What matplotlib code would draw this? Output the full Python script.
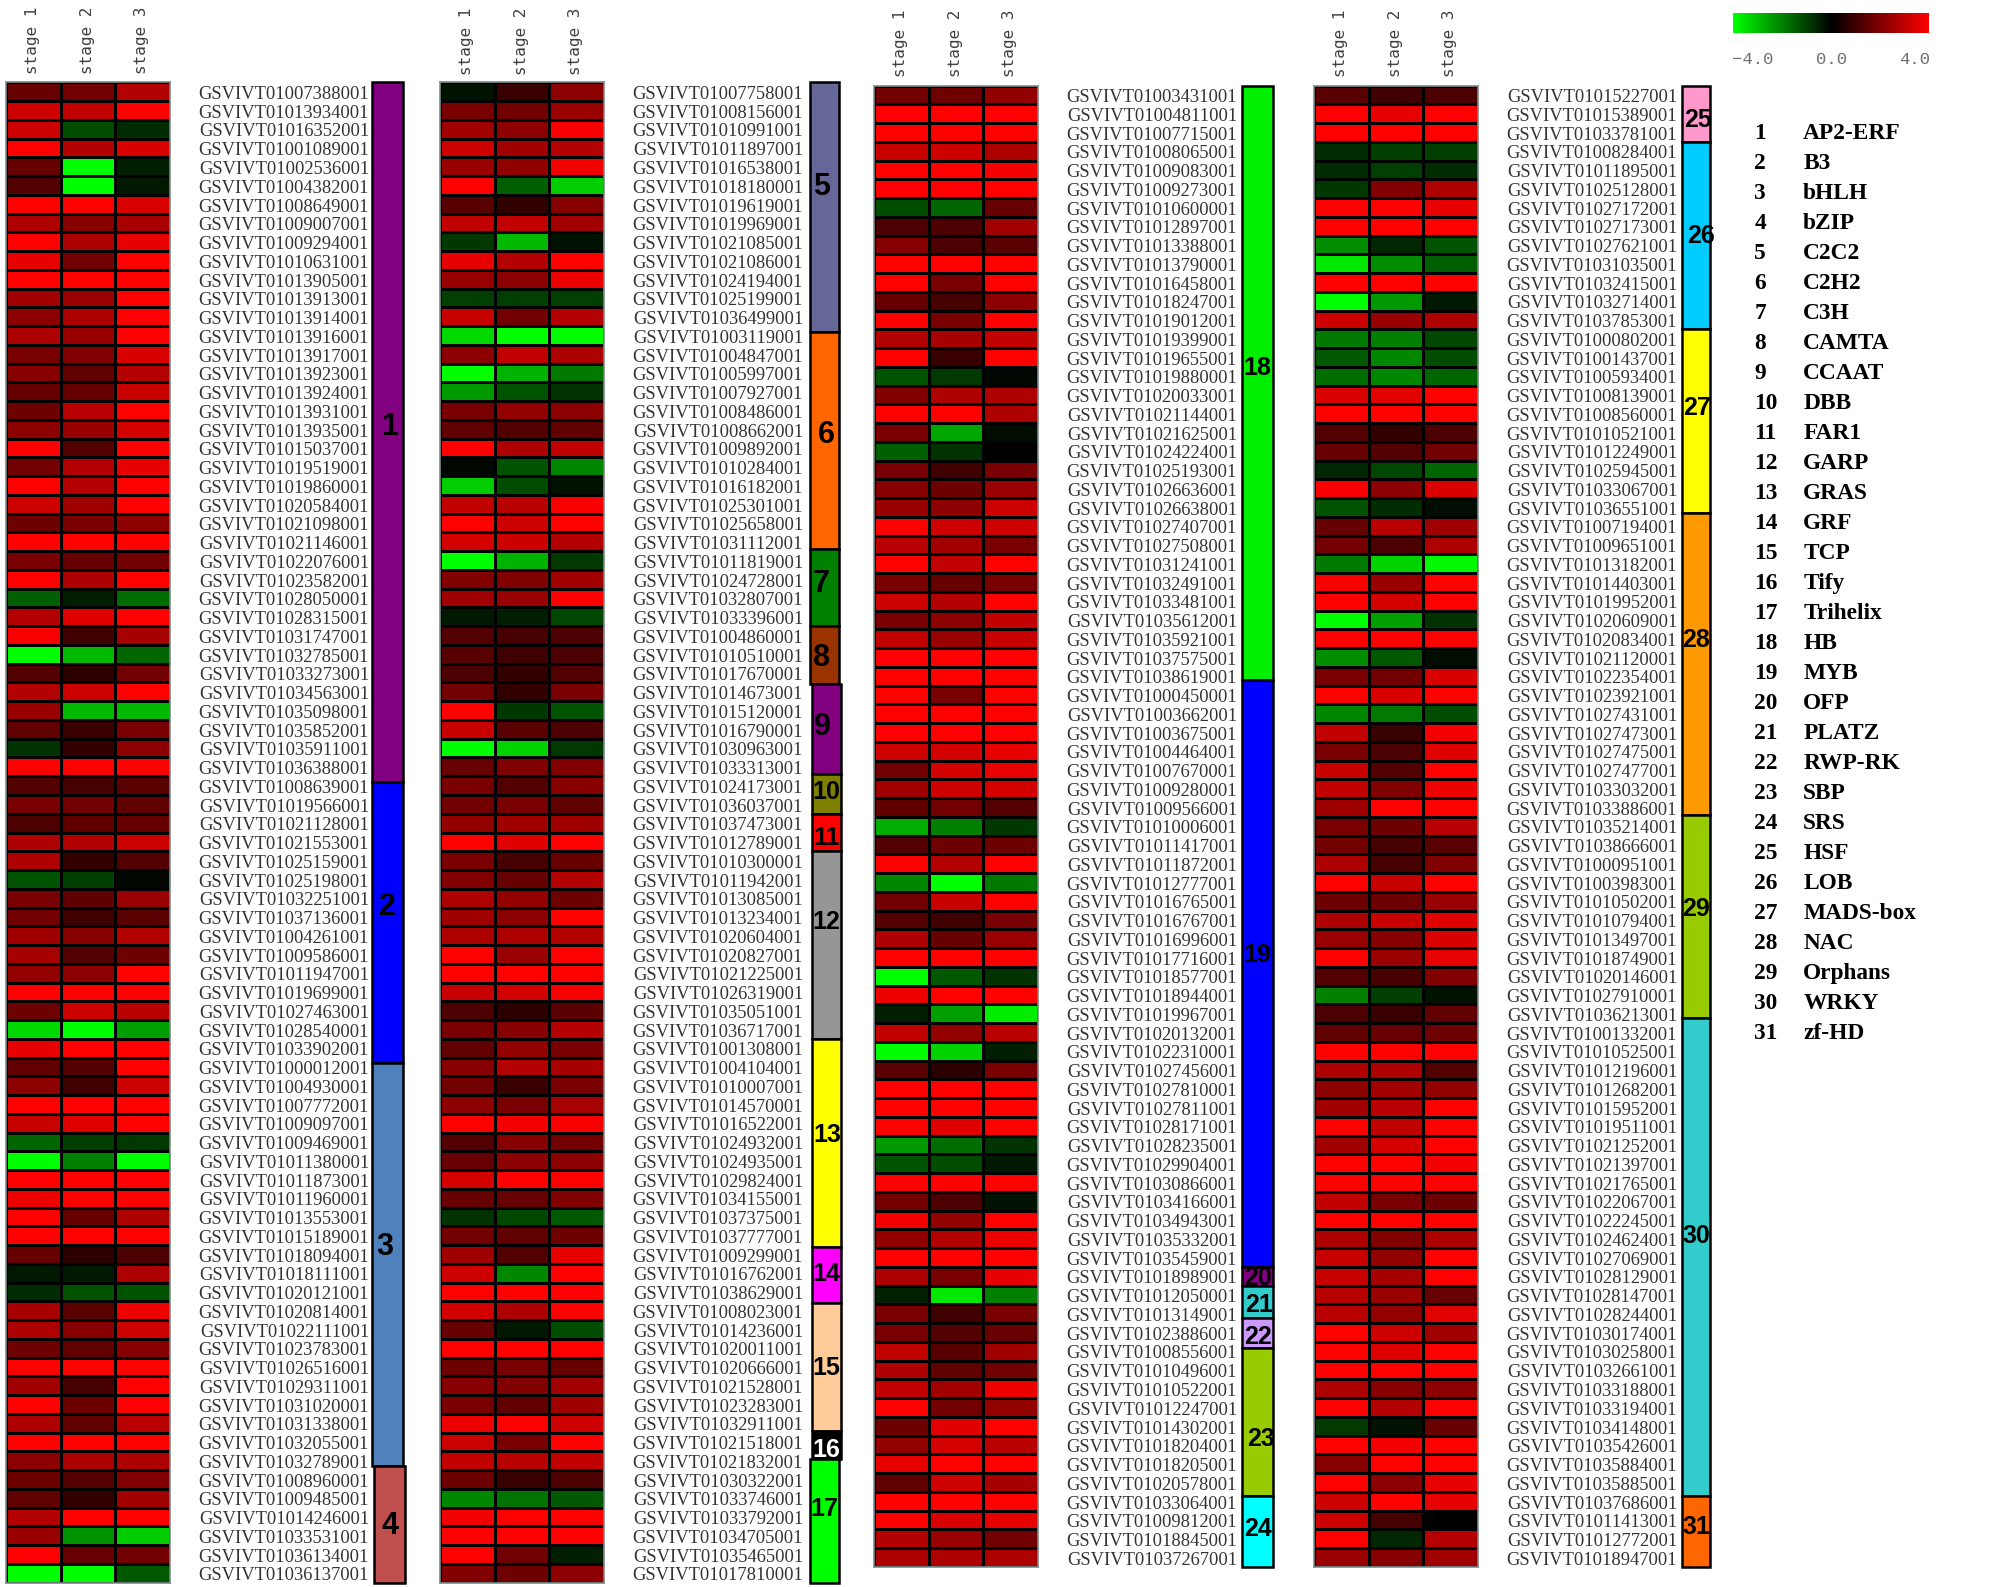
"""Expression heatmaps of grape transcription factor families across three stages."""

# %%
import matplotlib.pyplot as plt
from matplotlib.cm import ScalarMappable
from matplotlib.colors import LinearSegmentedColormap, Normalize
import numpy as np

# %% Data (log2 scale, -4 green to 4 red)
stages = ["stage 1", "stage 2", "stage 3"]

family_names = [
    "AP2-ERF", "B3", "bHLH", "bZIP", "C2C2", "C2H2", "C3H", "CAMTA", "CCAAT", "DBB", "FAR1",
    "GARP", "GRAS", "GRF", "TCP", "Tify", "Trihelix", "HB", "MYB", "OFP", "PLATZ", "RWP-RK",
    "SBP", "SRS", "HSF", "LOB", "MADS-box", "NAC", "Orphans", "WRKY", "zf-HD",
]
family_colors = [
    "#800080", "#0000FF", "#4F81BD", "#C0504D", "#666699", "#FF6600", "#008000", "#993300",
    "#800080", "#808000", "#FF0000", "#969696", "#FFFF00", "#FF00FF", "#FFCC99", "#000000",
    "#00FF00", "#00EE00", "#0000FF", "#800080", "#33CCCC", "#CC99FF", "#99CC00", "#00FFFF",
    "#FF99CC", "#00CCFF", "#FFFF00", "#FF9900", "#99CC00", "#33CCCC", "#FF6600",
]

# bar heights in rows, as measured on the picture (the bars do not quite follow the rows)
family_sizes_a = [37.3, 15, 21.5, 6.2]
family_sizes_b = [13.3, 11.6, 4.1, 3.1, 4.8, 2.1, 2, 10, 11.1, 3, 6.8, 1.5, 6.6]
family_sizes_c = [31.7, 31.3, 1, 1.7, 1.6, 7.9, 3.8]
family_sizes_d = [3, 10, 9.8, 16.1, 10.8, 25.5, 3.8]

genes_a = """
01007388 01013934 01016352 01001089 01002536 01004382 01008649 01009007 01009294 01010631
01013905 01013913 01013914 01013916 01013917 01013923 01013924 01013931 01013935 01015037
01019519 01019860 01020584 01021098 01021146 01022076 01023582 01028050 01028315 01031747
01032785 01033273 01034563 01035098 01035852 01035911 01036388 01008639 01019566 01021128
01021553 01025159 01025198 01032251 01037136 01004261 01009586 01011947 01019699 01027463
01028540 01033902 01000012 01004930 01007772 01009097 01009469 01011380 01011873 01011960
01013553 01015189 01018094 01018111 01020121 01020814 01022111 01023783 01026516 01029311
01031020 01031338 01032055 01032789 01008960 01009485 01014246 01033531 01036134 01036137
""".split()

genes_b = """
01007758 01008156 01010991 01011897 01016538 01018180 01019619 01019969 01021085 01021086
01024194 01025199 01036499 01003119 01004847 01005997 01007927 01008486 01008662 01009892
01010284 01016182 01025301 01025658 01031112 01011819 01024728 01032807 01033396 01004860
01010510 01017670 01014673 01015120 01016790 01030963 01033313 01024173 01036037 01037473
01012789 01010300 01011942 01013085 01013234 01020604 01020827 01021225 01026319 01035051
01036717 01001308 01004104 01010007 01014570 01016522 01024932 01024935 01029824 01034155
01037375 01037777 01009299 01016762 01038629 01008023 01014236 01020011 01020666 01021528
01023283 01032911 01021518 01021832 01030322 01033746 01033792 01034705 01035465 01017810
""".split()

genes_c = """
01003431 01004811 01007715 01008065 01009083 01009273 01010600 01012897 01013388 01013790
01016458 01018247 01019012 01019399 01019655 01019880 01020033 01021144 01021625 01024224
01025193 01026636 01026638 01027407 01027508 01031241 01032491 01033481 01035612 01035921
01037575 01038619 01000450 01003662 01003675 01004464 01007670 01009280 01009566 01010006
01011417 01011872 01012777 01016765 01016767 01016996 01017716 01018577 01018944 01019967
01020132 01022310 01027456 01027810 01027811 01028171 01028235 01029904 01030866 01034166
01034943 01035332 01035459 01018989 01012050 01013149 01023886 01008556 01010496 01010522
01012247 01014302 01018204 01018205 01020578 01033064 01009812 01018845 01037267
""".split()

genes_d = """
01015227 01015389 01033781 01008284 01011895 01025128 01027172 01027173 01027621 01031035
01032415 01032714 01037853 01000802 01001437 01005934 01008139 01008560 01010521 01012249
01025945 01033067 01036551 01007194 01009651 01013182 01014403 01019952 01020609 01020834
01021120 01022354 01023921 01027431 01027473 01027475 01027477 01033032 01033886 01035214
01038666 01000951 01003983 01010502 01010794 01013497 01018749 01020146 01027910 01036213
01001332 01010525 01012196 01012682 01015952 01019511 01021252 01021397 01021765 01022067
01022245 01024624 01027069 01028129 01028147 01028244 01030174 01030258 01032661 01033188
01033194 01034148 01035426 01035884 01035885 01037686 01011413 01012772 01018947
""".split()

values_a = [
    (1.6, 1.8, 2.8), (3.2, 3.0, 4), (3.2, -1.2, -0.7), (4, 2.8, 3.4), (1.6, -4, -0.5),
    (1.3, -4, -0.4), (4, 4, 3.4), (2.7, 2.1, 2.6), (4, 2.7, 3.6), (3.6, 1.8, 4),
    (4, 4, 4), (2.5, 2.4, 4), (2.2, 2.7, 4), (2.7, 2.4, 4), (1.9, 2.0, 3.4),
    (2.1, 1.5, 2.8), (1.6, 1.6, 3.1), (1.7, 2.9, 4), (2.2, 2.4, 3.3), (4, 1.3, 4),
    (1.8, 2.8, 3.6), (4, 2.8, 4), (3.2, 2.5, 4), (1.7, 1.9, 2.2), (4, 4, 4),
    (1.9, 1.6, 1.8), (4, 2.7, 4), (-1.5, -0.5, -1.7), (2.8, 3.5, 4), (3.9, 1.0, 2.6),
    (-4, -2.9, -1.6), (1.3, 0.7, 1.8), (2.8, 3.2, 4), (2.4, -2.9, -2.9), (1.5, 0.9, 1.9),
    (-0.8, 0.8, 2.2), (4, 4, 4), (1.3, 1.1, 1.4), (1.9, 1.8, 1.5), (1.2, 1.5, 1.6),
    (2.7, 2.8, 3.2), (2.7, 0.8, 1.3), (-1.3, -1.0, -0.1), (1.9, 1.5, 2.4), (1.8, 1.0, 1.4),
    (2.5, 2.1, 2.8), (2.6, 1.3, 1.7), (2.3, 2.2, 4), (4, 4, 4), (1.7, 3.2, 2.9),
    (-3.4, -4, -2.5), (3.6, 4, 4), (1.5, 1.3, 4), (2.2, 1.0, 3.2), (4, 4, 4),
    (3.1, 3.5, 4), (-1.6, -1.0, -0.9), (-4, -2.0, -4), (4, 4, 4), (3.7, 4, 4),
    (4, 1.6, 2.7), (4, 4, 4), (1.6, 0.7, 1.2), (-0.4, -0.4, 2.7), (-0.7, -1.3, -1.3),
    (2.6, 1.4, 3.7), (2.7, 2.1, 3.2), (1.7, 1.5, 2.1), (4, 4, 4), (2.5, 1.1, 4),
    (4, 1.7, 4), (2.7, 1.5, 2.9), (4, 4, 4), (2.2, 2.7, 2.7), (1.7, 1.3, 2.0),
    (1.5, 0.8, 2.5), (2.8, 4, 4), (2.4, -2.3, -3.2), (4, 1.6, 1.8), (-4, -4, -1.4),
]

values_b = [
    (-0.3, 0.9, 2.2), (1.9, 1.8, 2.4), (2.5, 2.2, 3.9), (3.2, 2.5, 2.8), (2.4, 2.3, 3.8),
    (4, -1.5, -3.2), (1.4, 0.8, 2.1), (3.0, 3.0, 2.5), (-0.9, -2.9, -0.3), (3.6, 2.8, 4),
    (2.4, 2.2, 3.7), (-1.0, -1.0, -1.0), (3.1, 1.8, 2.8), (-3.4, -4, -4), (2.2, 3.0, 2.7),
    (-4, -2.8, -1.9), (-2.4, -1.3, -0.8), (1.9, 2.3, 2.2), (1.5, 1.3, 1.5), (4, 2.7, 3.0),
    (-0.1, -1.3, -2.1), (-3.2, -1.2, -0.3), (3.0, 2.9, 3.9), (4, 3.2, 4), (3.3, 3.2, 2.8),
    (-4, -2.8, -0.9), (2.0, 2.0, 2.5), (2.5, 2.4, 4), (-0.4, -0.5, -1.1), (1.3, 1.1, 1.2),
    (1.4, 1.0, 1.2), (1.2, 0.8, 1.3), (1.8, 0.8, 1.9), (4, -0.9, -1.3), (3.1, 1.4, 1.2),
    (-4, -3.3, -0.9), (1.6, 2.0, 2.0), (1.9, 1.3, 2.1), (1.8, 1.9, 1.5), (2.3, 2.5, 2.5),
    (4, 3.5, 4), (1.9, 1.1, 1.6), (2.0, 1.6, 2.8), (2.7, 2.3, 1.7), (2.5, 2.2, 4),
    (2.7, 2.7, 2.8), (4, 2.4, 4), (4, 4, 4), (3.1, 3.3, 3.9), (1.2, 0.7, 1.4),
    (1.9, 2.1, 2.8), (1.5, 2.3, 1.9), (2.1, 2.8, 2.6), (1.8, 0.9, 1.9), (2.2, 1.9, 2.6),
    (4, 3.8, 3.9), (1.3, 2.1, 1.8), (1.6, 2.2, 2.2), (3.3, 4, 4), (1.6, 1.6, 2.0),
    (-0.8, -1.1, -1.4), (1.8, 1.5, 1.7), (2.5, 1.3, 3.6), (3.2, -2.1, 4), (4, 4, 4),
    (3.3, 2.7, 4), (1.6, -0.4, -1.2), (4, 4, 4), (1.7, 1.9, 1.6), (2.1, 2.0, 2.5),
    (1.9, 1.5, 2.5), (3.7, 4, 3.2), (3.2, 1.9, 4), (3.0, 2.9, 3.0), (1.7, 0.9, 1.2),
    (-2.1, -1.8, -1.4), (3.8, 4, 4), (4, 4, 4), (4, 1.8, -0.5), (2.0, 1.7, 2.2),
]

values_c = [
    (1.8, 1.7, 2.3), (4, 4, 4), (4, 4, 4), (3.1, 3.2, 2.7), (4, 4, 3.8),
    (4, 4, 4), (-1.2, -1.6, 1.6), (1.2, 1.2, 2.5), (2.1, 1.2, 1.4), (4, 4, 4),
    (4, 1.9, 4), (1.6, 1.1, 2.2), (4, 1.9, 4), (2.8, 2.6, 3.0), (4, 0.9, 4),
    (-1.3, -0.9, -0.1), (2.0, 2.7, 2.7), (4, 4, 2.7), (1.9, -2.6, -0.2), (-1.5, -0.8, 0),
    (1.9, 1.0, 1.9), (2.1, 1.7, 2.4), (2.4, 2.2, 3.2), (4, 3.2, 3.2), (2.9, 2.5, 1.9),
    (4, 3.0, 4), (1.9, 1.6, 1.9), (3.2, 2.8, 4), (1.9, 2.2, 3.0), (3.0, 2.4, 3.1),
    (4, 4, 4), (4, 4, 4), (4, 1.9, 4), (4, 4, 4), (4, 4, 4),
    (3.2, 3.3, 3.6), (1.8, 3.3, 3.6), (2.5, 3.2, 3.3), (1.5, 1.8, 1.3), (-2.7, -2.0, -0.9),
    (1.3, 1.7, 1.7), (4, 2.8, 4), (-2.1, -4, -1.9), (1.8, 3.1, 4), (1.3, 1.0, 1.9),
    (2.7, 1.6, 2.4), (4, 4, 4), (-4, -1.4, -0.8), (3.7, 4, 4), (-0.5, -2.5, -3.7),
    (3.0, 2.3, 2.9), (-4, -3.3, -0.5), (1.4, 0.7, 1.9), (4, 4, 4), (4, 4, 4),
    (4, 3.5, 4), (-2.4, -1.7, -0.8), (-1.3, -1.2, -0.4), (4, 4, 4), (1.8, 1.2, -0.3),
    (3.8, 2.3, 4), (2.3, 2.8, 3.7), (4, 4, 4), (2.7, 1.9, 3.6), (-0.5, -3.6, -2.0),
    (1.9, 1.0, 1.9), (1.9, 1.3, 1.6), (3.0, 1.4, 2.5), (2.7, 1.5, 1.8), (3.0, 2.5, 3.7),
    (4, 1.8, 2.3), (1.7, 3.5, 4), (2.3, 3.3, 2.9), (3.6, 4, 4), (1.5, 3.2, 2.6),
    (4, 4, 4), (4, 3.4, 3.6), (2.8, 2.4, 1.8), (2.7, 2.7, 2.7),
]

values_d = [
    (1.4, 1.0, 1.2), (4, 3.6, 4), (4, 4, 4), (-0.7, -1.0, -1.0), (-0.7, -1.0, -0.7),
    (-0.9, 2.0, 2.7), (4, 4, 3.6), (4, 4, 4), (-2.2, -0.6, -1.3), (-3.6, -2.2, -1.5),
    (4, 4, 4), (-4, -2.4, -0.4), (3.2, 2.4, 2.7), (-1.9, -2.0, -1.1), (-1.4, -2.1, -1.2),
    (-1.7, -2.1, -1.6), (3.4, 3.5, 4), (4, 4, 4), (1.3, 0.8, 1.2), (1.6, 1.3, 1.8),
    (-0.6, -1.1, -1.6), (3.9, 2.2, 3.4), (-1.3, -0.7, -0.2), (1.6, 2.9, 2.5), (1.8, 1.2, 2.7),
    (-1.9, -3.3, -3.9), (3.9, 2.4, 4), (4, 3.3, 4), (-4, -2.5, -0.8), (4, 4, 4),
    (-2.2, -1.4, -0.2), (1.9, 1.8, 3.4), (4, 3.4, 4), (-2.1, -1.9, -1.2), (3.0, 0.9, 3.8),
    (1.9, 1.2, 3.5), (3.1, 1.3, 4), (3.0, 2.0, 3.7), (2.5, 4, 4), (1.9, 1.7, 2.9),
    (1.8, 1.1, 1.4), (2.7, 1.1, 2.0), (4, 3.1, 4), (1.7, 1.7, 2.4), (2.7, 3.1, 3.5),
    (2.4, 2.1, 3.4), (4, 2.4, 3.6), (1.3, 1.1, 2.0), (-2.0, -1.0, -0.3), (1.2, 0.9, 1.5),
    (1.5, 1.6, 1.7), (4, 4, 4), (2.7, 2.7, 1.3), (2.2, 2.5, 2.3), (2.5, 2.9, 4),
    (4, 3.0, 4), (2.5, 3.3, 4), (4, 4, 3.8), (4, 4, 4), (3.0, 1.9, 1.7),
    (4, 4, 4), (2.7, 2.0, 2.7), (3.1, 2.3, 4), (3.1, 2.6, 4), (2.9, 2.4, 1.6),
    (2.9, 2.3, 3.5), (4, 3.2, 2.5), (4, 3.5, 4), (4, 4, 4), (2.7, 2.1, 2.2),
    (4, 2.8, 4), (-0.9, -0.3, 1.6), (4, 3.8, 4), (2.1, 4, 4), (4, 2.2, 3.6),
    (3.2, 4, 3.6), (3.2, 1.1, 0), (4, -0.6, 2.8), (2.4, 2.1, 2.5),
]

# %% Layout in pixels of the final image
W, H = 2011, 1587
ROW_PITCH = 18.75
SERIF = "Liberation Serif"
MONO = "Liberation Mono"

# genes, values, bar heights, heat_left, heat_right, top, label_right, bar_left, bar_width,
# first family, stage label bottom
panels = [
    (genes_a, values_a, family_sizes_a, 6, 170, 82.6, 369, 372, 31, 0, 74),
    (genes_b, values_b, family_sizes_b, 440, 604, 82.6, 803, 810, 29, 4, 75),
    (genes_c, values_c, family_sizes_c, 874, 1038, 85.7, 1237, 1242, 31, 17, 77),
    (genes_d, values_d, family_sizes_d, 1314, 1478, 85.7, 1677, 1682, 28, 24, 77),
]
# nudges for the family numbers, (dx, dy) in pixels from the bar centre
number_nudge = {
    0: (2, -5), 1: (0, -16), 2: (-3, -18), 3: (0, 1), 4: (-3, -20), 5: (2, -6), 6: (-3, -4),
    7: (-3, 3), 8: (-4, -3), 9: (0, -2), 10: (0, 5), 11: (0, -23), 12: (1, -8), 13: (0, -1),
    14: (0, 1), 15: (0, 5), 16: (0, -12), 17: (0, -14.5), 18: (0, -18.5), 19: (0, 1.5),
    20: (1, 3), 21: (0, 4), 22: (3, 17), 23: (0, -2.5), 24: (2, 6), 25: (5, 0), 26: (1, -13),
    27: (0, -24), 28: (0, -7), 29: (0, -21), 30: (0, -4.5),
}
# family 4 and families 9 to 16 sit a little to the right of the rest of the column
bar_shift = {3: 2, 8: 2, 9: 2, 10: 2, 11: 2, 12: 2, 13: 2, 14: 2, 15: 2}

heat_cmap = LinearSegmentedColormap.from_list("gbr", ["#00FF00", "#000000", "#FF0000"])
norm = Normalize(-4, 4)


def px_axes(fig, left, top, right, bottom):
    return fig.add_axes([left / W, 1 - bottom / H, (right - left) / W, (bottom - top) / H])


def px_text(fig, x, y, s, **kwargs):
    fig.text(x / W, 1 - y / H, s, **kwargs)


# %% Plotting
fig = plt.figure(figsize=((W + 0.2) / 100, (H + 0.2) / 100), dpi=100, facecolor="white")

for genes, values, sizes, heat_l, heat_r, top, label_r, bar_l, bar_w, first, stage_y in panels:
    n_rows = len(genes)
    bottom = top + n_rows * ROW_PITCH

    ax_heat = px_axes(fig, heat_l, top, heat_r, bottom)
    ax_heat.pcolormesh(
        np.array(values), cmap=heat_cmap, norm=norm, edgecolors="black", linewidth=2.0
    )
    ax_heat.set_ylim(n_rows, 0)
    ax_heat.set_yticks([])
    ax_heat.set_xticks([])
    for spine in ax_heat.spines.values():
        spine.set_color("#7F8C8D")
        spine.set_linewidth(1.2)
    for col, stage in enumerate(stages):
        ax_heat.annotate(
            stage,
            xy=(col + 0.5, 0),
            xycoords="data",
            xytext=(-1, top - stage_y),
            textcoords="offset pixels",
            rotation=90,
            ha="center",
            va="bottom",
            family="DejaVu Sans Mono",
            fontsize=11.5,
            color="#404040",
        )

    ax_fam = px_axes(fig, label_r - 5, top, bar_l + bar_w + 8, bottom)
    ax_fam.set_xlim(label_r - 5, bar_l + bar_w + 8)
    ax_fam.set_ylim(n_rows, 0)
    ax_fam.axis("off")
    for row, gene in enumerate(genes):
        ax_heat.annotate(
            f"GSVIVT{gene}001",
            xy=(1, row + 0.5),
            xycoords=("axes fraction", "data"),
            xytext=(label_r - heat_r, -2.5),
            textcoords="offset pixels",
            ha="right",
            va="center",
            family=SERIF,
            fontsize=13.3,
            color="#333333",
        )
    start = 0
    for i, size in enumerate(sizes):
        fam = first + i
        left = bar_l + bar_shift.get(fam, 0)
        ax_fam.bar(
            left,
            size,
            width=bar_w,
            bottom=start,
            align="edge",
            color=family_colors[fam],
            edgecolor="black",
            linewidth=1.8,
            clip_on=False,
        )
        dx, dy = number_nudge[fam]
        ax_fam.annotate(
            str(fam + 1),
            xy=(left + bar_w / 2, start + size / 2),
            xytext=(dx, -dy),
            textcoords="offset pixels",
            ha="center",
            va="center",
            family="Liberation Sans",
            fontweight="bold",
            fontsize=22 if fam < 9 else 18,
            color="white" if fam == 15 else "black",
            annotation_clip=False,
        )
        start += size

# colour key
cax = px_axes(fig, 1733, 13, 1929, 33)
key = fig.colorbar(ScalarMappable(norm, heat_cmap), cax=cax, orientation="horizontal")
key.outline.set_visible(False)
key.set_ticks([])
for x, s in zip([1753, 1831, 1914], ["\u22124.0", "0.0", "4.0"]):
    px_text(fig, x, 59, s, ha="center", va="center", family=MONO, fontsize=12.4, color="#707070")

# family legend
for i, name in enumerate(family_names):
    y = 133 + i * 30
    px_text(fig, 1754, y, str(i + 1), ha="left", va="center", family=SERIF,
            fontweight="bold", fontsize=16.8)
    px_text(fig, 1803, y, name, ha="left", va="center", family=SERIF,
            fontweight="bold", fontsize=16.8)

fig.savefig("out.png", dpi=100)
